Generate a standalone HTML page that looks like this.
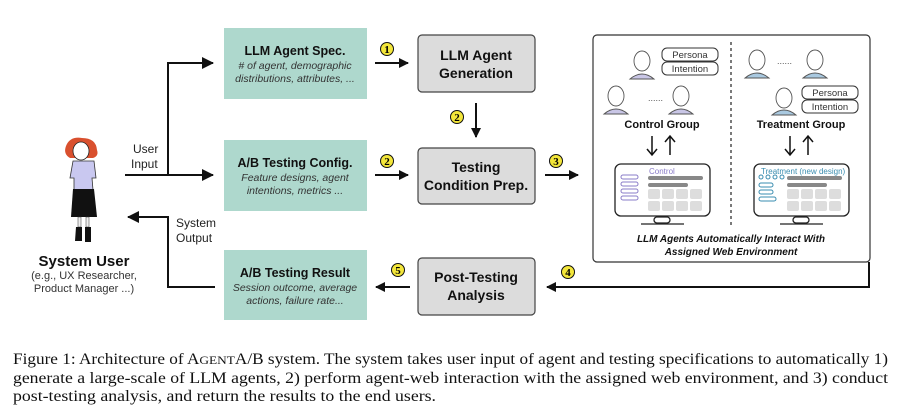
<!DOCTYPE html>
<html><head><meta charset="utf-8"><style>
html,body{margin:0;padding:0;background:#fff;}
body{width:900px;height:415px;overflow:hidden;position:relative;}
svg{position:absolute;left:0;top:0;}
</style></head><body>
<svg width="900" height="415" viewBox="0 0 900 415" font-family="Liberation Sans, sans-serif">
<defs>
<marker id="ah" markerWidth="10" markerHeight="10" refX="9" refY="5" orient="auto" markerUnits="userSpaceOnUse"><path d="M0,0 L10,5 L0,10 z" fill="#111"/></marker>
<marker id="ah2" markerWidth="12" markerHeight="12" refX="11" refY="6" orient="auto" markerUnits="userSpaceOnUse"><path d="M0,0 L12,6 L0,12 z" fill="#111"/></marker>
</defs>
<path d="M66,146 Q70,136 82,138 Q96,138 97,150 Q99,156 93,158 L70,158 Q63,154 66,146z" fill="#d9502e"/>
<ellipse cx="81" cy="151" rx="8" ry="9" fill="#fff" stroke="#222" stroke-width="0.8"/>
<path d="M73,161 L94,161 L96,178 L92,178 L93,190 L74,190 L74,178 L70,178z" fill="#c9c8f0" stroke="#333" stroke-width="0.8"/>
<path d="M73,189 L94,189 L97,217 L71,217z" fill="#111"/>
<rect x="78" y="217" width="3" height="10" fill="#eee" stroke="#333" stroke-width="0.5"/>
<rect x="86" y="217" width="3" height="10" fill="#eee" stroke="#333" stroke-width="0.5"/>
<path d="M76,227 h6 v14 h-7z M85,227 h6 v15 h-6z" fill="#111"/>
<text x="84" y="266" font-size="15" font-weight="bold" text-anchor="middle" fill="#111">System User</text>
<text x="84" y="279" font-size="11" text-anchor="middle" fill="#333">(e.g., UX Researcher,</text>
<text x="84" y="292" font-size="11" text-anchor="middle" fill="#333">Product Manager ...)</text>
<g stroke="#111" stroke-width="2" fill="none">
<path d="M125,175 H213" marker-end="url(#ah2)"/>
<path d="M168,175 V63 H213" marker-end="url(#ah2)"/>
<path d="M215,287 H168 V217 H128" marker-end="url(#ah2)"/>
<path d="M375,63 H408" marker-end="url(#ah)"/>
<path d="M375,175 H408" marker-end="url(#ah)"/>
<path d="M476,103 V137" marker-end="url(#ah)"/>
<path d="M545,175 H578" marker-end="url(#ah)"/>
<path d="M869,262 V287 H547" marker-end="url(#ah)"/>
<path d="M410,287 H376" marker-end="url(#ah)"/>
</g>
<text x="133" y="153" font-size="12" fill="#222">User</text>
<text x="131" y="168" font-size="12" fill="#222">Input</text>
<text x="176" y="227" font-size="12" fill="#222">System</text>
<text x="176" y="242" font-size="12" fill="#222">Output</text>
<g fill="#aed8cd">
<rect x="224" y="28" width="143" height="71"/>
<rect x="224" y="140" width="143" height="71"/>
<rect x="224" y="250" width="143" height="70"/>
</g>
<g text-anchor="middle" fill="#111">
<text x="295" y="55" font-size="12.5" font-weight="bold">LLM Agent Spec.</text>
<text x="295" y="69" font-size="10.5" font-style="italic" fill="#333"># of agent, demographic</text>
<text x="295" y="82" font-size="10.5" font-style="italic" fill="#333">distributions, attributes, ...</text>
<text x="295" y="167" font-size="12.5" font-weight="bold">A/B Testing Config.</text>
<text x="295" y="181" font-size="10.5" font-style="italic" fill="#333">Feature designs, agent</text>
<text x="295" y="194" font-size="10.5" font-style="italic" fill="#333">intentions, metrics ...</text>
<text x="295" y="277" font-size="12.5" font-weight="bold">A/B Testing Result</text>
<text x="295" y="291" font-size="10.5" font-style="italic" fill="#333">Session outcome, average</text>
<text x="295" y="304" font-size="10.5" font-style="italic" fill="#333">actions, failure rate...</text>
</g>
<g fill="#dcdcdc" stroke="#444" stroke-width="1.2">
<rect x="418" y="35" width="117" height="57" rx="4"/>
<rect x="418" y="148" width="117" height="56" rx="4"/>
<rect x="418" y="258" width="117" height="57" rx="4"/>
</g>
<g text-anchor="middle" fill="#111" font-size="14" font-weight="bold">
<text x="476" y="60">LLM Agent</text><text x="476" y="78">Generation</text>
<text x="476" y="172">Testing</text><text x="476" y="190">Condition Prep.</text>
<text x="476" y="282">Post-Testing</text><text x="476" y="300">Analysis</text>
</g>
<g font-family="Liberation Serif, serif" font-size="11" font-weight="bold" text-anchor="middle">
<g fill="#f3e63a" stroke="#111" stroke-width="1">
<circle cx="387" cy="49" r="6.5"/><circle cx="387" cy="161" r="6.5"/>
<circle cx="457" cy="117" r="6.5"/><circle cx="556" cy="161" r="6.5"/>
<circle cx="568" cy="272" r="6.5"/><circle cx="398" cy="270" r="6.5"/>
</g>
<text x="387" y="53">1</text><text x="387" y="165">2</text><text x="457" y="121">2</text>
<text x="556" y="165">3</text><text x="568" y="276">4</text><text x="398" y="274">5</text>
</g>
<rect x="593" y="35" width="277" height="227" rx="4" fill="#fff" stroke="#333" stroke-width="1.2"/>
<line x1="731" y1="42" x2="731" y2="228" stroke="#222" stroke-width="1.2" stroke-dasharray="3,3"/>
<g stroke="#555" stroke-width="0.9">
<g fill="#c9c6e6">
<ellipse cx="642" cy="61" rx="8" ry="10" fill="#fff"/><path d="M630,79 Q642,69 654,79z"/>
<ellipse cx="616" cy="96" rx="8" ry="10" fill="#fff"/><path d="M604,114 Q616,104 628,114z"/>
<ellipse cx="681" cy="96" rx="8" ry="10" fill="#fff"/><path d="M669,114 Q681,104 693,114z"/>
</g>
<g fill="#a9c9e0">
<ellipse cx="757" cy="60" rx="8" ry="10" fill="#fff"/><path d="M745,78 Q757,68 769,78z"/>
<ellipse cx="815" cy="60" rx="8" ry="10" fill="#fff"/><path d="M803,78 Q815,68 827,78z"/>
<ellipse cx="784" cy="98" rx="8" ry="10" fill="#fff"/><path d="M772,115 Q784,105 796,115z"/>
</g>
</g>
<text x="648" y="101" font-size="9" fill="#555">......</text>
<text x="777" y="64" font-size="9" fill="#555">......</text>
<g fill="#fff" stroke="#333" stroke-width="1">
<rect x="662" y="48" width="56" height="13" rx="5"/><rect x="662" y="62" width="56" height="13" rx="5"/>
<rect x="802" y="86" width="56" height="13" rx="5"/><rect x="802" y="100" width="56" height="13" rx="5"/>
</g>
<g font-size="9.5" text-anchor="middle" fill="#333">
<text x="690" y="58">Persona</text><text x="690" y="72">Intention</text>
<text x="830" y="96">Persona</text><text x="830" y="110">Intention</text>
</g>
<text x="662" y="128" font-size="11" font-weight="bold" text-anchor="middle" fill="#111">Control Group</text>
<text x="801" y="128" font-size="11" font-weight="bold" text-anchor="middle" fill="#111">Treatment Group</text>
<g stroke="#111" stroke-width="1.5" fill="none">
<path d="M652,136 V154 M647,149 L652,155 L657,149"/>
<path d="M670,155 V137 M665,142 L670,136 L675,142"/>
<path d="M790,136 V154 M785,149 L790,155 L795,149"/>
<path d="M808,155 V137 M803,142 L808,136 L813,142"/>
</g>
<g fill="#fff" stroke="#222" stroke-width="1.3">
<rect x="615" y="164" width="95" height="52" rx="6"/>
<rect x="754" y="164" width="95" height="52" rx="6"/>
<rect x="654" y="217" width="16" height="6" rx="3"/>
<rect x="793" y="217" width="16" height="6" rx="3"/>
</g>
<line x1="641" y1="224" x2="684" y2="224" stroke="#222" stroke-width="1.3"/>
<line x1="780" y1="224" x2="823" y2="224" stroke="#222" stroke-width="1.3"/>
<text x="649" y="174" font-size="8" fill="#8a7cc8">Control</text>
<text x="761" y="174" font-size="8" fill="#3a8db0">Treatment (new design)</text>
<g fill="#888">
<rect x="648" y="176" width="55" height="4" rx="2"/><rect x="648" y="183" width="40" height="4" rx="2"/>
<rect x="787" y="176" width="55" height="4" rx="2"/><rect x="787" y="183" width="40" height="4" rx="2"/>
</g>
<g fill="#ddd">
<rect x="648" y="189" width="12" height="10" rx="2"/><rect x="662" y="189" width="12" height="10" rx="2"/><rect x="676" y="189" width="12" height="10" rx="2"/><rect x="690" y="189" width="12" height="10" rx="2"/>
<rect x="648" y="201" width="12" height="10" rx="2"/><rect x="662" y="201" width="12" height="10" rx="2"/><rect x="676" y="201" width="12" height="10" rx="2"/><rect x="690" y="201" width="12" height="10" rx="2"/>
<rect x="787" y="189" width="12" height="10" rx="2"/><rect x="801" y="189" width="12" height="10" rx="2"/><rect x="815" y="189" width="12" height="10" rx="2"/><rect x="829" y="189" width="12" height="10" rx="2"/>
<rect x="787" y="201" width="12" height="10" rx="2"/><rect x="801" y="201" width="12" height="10" rx="2"/><rect x="815" y="201" width="12" height="10" rx="2"/><rect x="829" y="201" width="12" height="10" rx="2"/>
</g>
<g fill="none" stroke="#8a7cc8" stroke-width="1">
<rect x="621" y="175" width="17" height="4" rx="2"/><rect x="621" y="182" width="17" height="4" rx="2"/><rect x="621" y="189" width="17" height="4" rx="2"/><rect x="621" y="196" width="17" height="4" rx="2"/>
</g>
<g fill="none" stroke="#3a8db0" stroke-width="1">
<circle cx="761" cy="177" r="2"/><circle cx="768" cy="177" r="2"/><circle cx="775" cy="177" r="2"/><circle cx="782" cy="177" r="2"/>
<rect x="759" y="183" width="14" height="4" rx="2"/><rect x="759" y="190" width="14" height="4" rx="2"/><rect x="759" y="197" width="17" height="4" rx="2"/>
</g>
<text x="731" y="242" font-size="10" font-weight="bold" font-style="italic" text-anchor="middle" fill="#111">LLM Agents Automatically Interact With</text>
<text x="731" y="255" font-size="10" font-weight="bold" font-style="italic" text-anchor="middle" fill="#111">Assigned Web Environment</text>
<g font-family="Liberation Serif, serif" font-size="15.5" fill="#111">
<text x="13" y="364" textLength="875" lengthAdjust="spacingAndGlyphs">Figure 1: Architecture of A<tspan font-size="12">GENT</tspan>A/B system. The system takes user input of agent and testing specifications to automatically 1)</text>
<text x="13" y="383" textLength="875" lengthAdjust="spacingAndGlyphs">generate a large-scale of LLM agents, 2) perform agent-web interaction with the assigned web environment, and 3) conduct</text>
<text x="13" y="401" textLength="423" lengthAdjust="spacingAndGlyphs">post-testing analysis, and return the results to the end users.</text>
</g>
</svg>
</body></html>
